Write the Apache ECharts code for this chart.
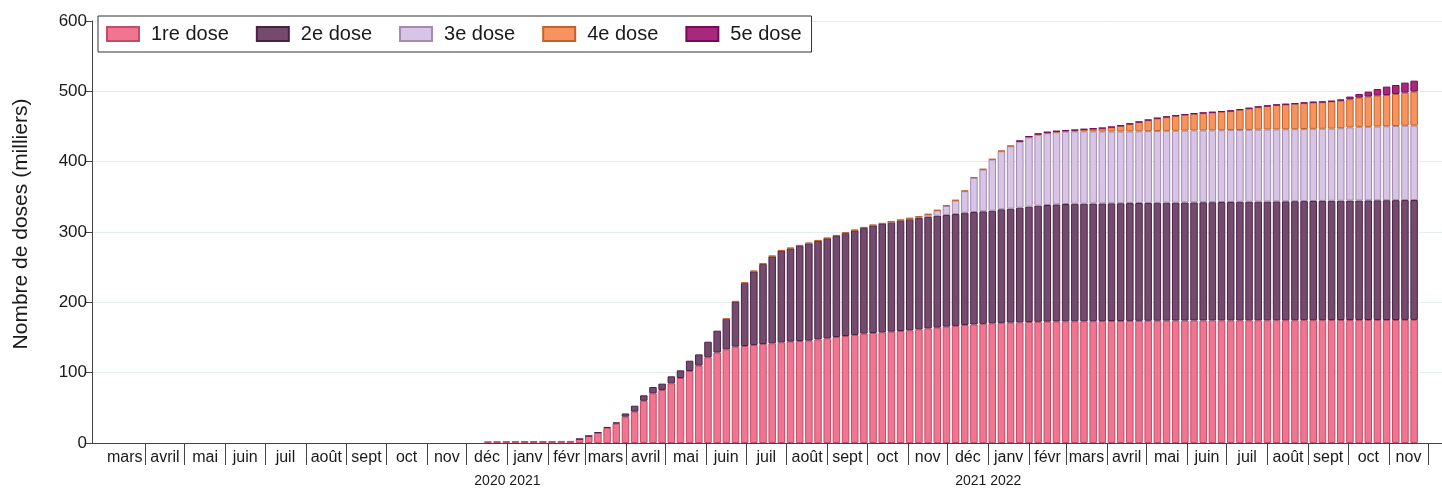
<!DOCTYPE html>
<html><head><meta charset="utf-8">
<script src="https://cdn.jsdelivr.net/npm/echarts@6/dist/echarts.min.js"></script>
<style>html,body{margin:0;padding:0;background:#fff}#c{width:1442px;height:489px}</style>
</head><body><div id="c"></div>
<script>
// Weekly observation dates (bars)
const weeks = [
'2020-12-16','2020-12-23','2020-12-30','2021-01-06','2021-01-13','2021-01-20','2021-01-27','2021-02-03','2021-02-10','2021-02-17',
'2021-02-24','2021-03-03','2021-03-10','2021-03-17','2021-03-24','2021-03-31','2021-04-07','2021-04-14','2021-04-21','2021-04-28',
'2021-05-05','2021-05-12','2021-05-19','2021-05-26','2021-06-02','2021-06-09','2021-06-16','2021-06-23','2021-06-30','2021-07-07',
'2021-07-14','2021-07-21','2021-07-28','2021-08-04','2021-08-11','2021-08-18','2021-08-25','2021-09-01','2021-09-08','2021-09-15',
'2021-09-22','2021-09-29','2021-10-06','2021-10-13','2021-10-20','2021-10-27','2021-11-03','2021-11-10','2021-11-17','2021-11-24',
'2021-12-01','2021-12-08','2021-12-15','2021-12-22','2021-12-29','2022-01-05','2022-01-12','2022-01-19','2022-01-26','2022-02-02',
'2022-02-09','2022-02-16','2022-02-23','2022-03-02','2022-03-09','2022-03-16','2022-03-23','2022-03-30','2022-04-06','2022-04-13',
'2022-04-20','2022-04-27','2022-05-04','2022-05-11','2022-05-18','2022-05-25','2022-06-01','2022-06-08','2022-06-15','2022-06-22',
'2022-06-29','2022-07-06','2022-07-13','2022-07-20','2022-07-27','2022-08-03','2022-08-10','2022-08-17','2022-08-24','2022-08-31',
'2022-09-07','2022-09-14','2022-09-21','2022-09-28','2022-10-05','2022-10-12','2022-10-19','2022-10-26','2022-11-02','2022-11-09',
'2022-11-16','2022-11-23'];

// Values in thousands of doses (segment heights)
const dose1 = [
2.5,2.6,2.7,2.7,2.8,2.8,2.9,2.9,3.0,3.0,
5.5,9.8,14.5,21.5,27.5,37.4,44.5,60,70.6,75.4,
84.9,92.4,102.4,110,122,128.6,133.2,137,137.9,139.3,
140.8,141.7,143.1,144.1,145,145.5,147.4,148.8,150.7,152.1,
153.6,155.5,156.4,157.4,158.3,159.2,160.2,161.6,163,164,
165.4,166.5,167.8,168.5,169.4,170.2,170.8,171.2,171.6,172,
172.3,172.5,172.7,172.9,173,173.1,173.2,173.3,173.4,173.5,
173.6,173.7,173.8,173.9,174,174.1,174.1,174.2,174.2,174.3,
174.3,174.4,174.4,174.5,174.5,174.5,174.6,174.6,174.6,174.7,
174.7,174.7,174.8,174.8,174.8,174.8,174.9,174.9,174.9,174.9,
175,175];
const dose2 = [
0,0,0,0,0,0,0,0,0,0,
0.3,0.4,0.7,1.2,1.9,4.6,8.5,7.8,9,9,
9.9,10.9,14.6,16,22,31.1,43.1,63.9,89.5,104.7,
113.7,123.7,130.3,132.6,135.5,138.3,140.2,142.2,144,146.4,
148.7,150.6,153,154.4,155.7,157,158.1,158.4,158.5,159,
158.9,159.1,159.7,159.9,160,160.1,161.5,162,163,164,
165.1,165.9,166.5,166.9,167.1,167.2,167.3,167.3,167.4,167.4,
167.5,167.5,167.6,167.6,167.7,167.7,167.9,167.9,168.1,168.1,
168.3,168.3,168.5,168.5,168.7,168.8,168.9,169,169.2,169.2,
169.4,169.5,169.6,169.7,169.9,170,170.1,170.2,170.3,170.4,
170.4,170.5];
const dose3 = [
0,0,0,0,0,0,0,0,0,0,
0,0,0,0,0,0,0,0,0,0,
0,0,0,0,0,0,0,0,0,0,
0,0,0,0,0,0,0,0,0,0,
0,0,0,0,0.3,0.5,0.8,1.5,3.3,7.5,
12.8,19.1,30.5,48.6,59.4,72.7,82.5,88.7,93.7,98.6,
100.8,102.1,102.7,102.9,103,102.9,102.6,102.3,102.1,101.9,
101.9,102,102,102,102.1,102.1,102.1,102.2,102.2,102.2,
102.1,102.2,102.1,102.2,102.3,102.4,102.4,102.5,102.4,102.5,
102.6,102.6,102.6,103.1,104,104.7,104.5,104.8,105.1,105.4,
105.7,105.7];
const dose4 = [
0,0,0,0,0,0,0,0,0,0,
0,0,0,0,0,0,0,0,0,0,
0,0,0,0,0,0,0.5,0.8,0.8,0.8,
0.8,0.8,0.8,0.8,0.8,0.8,0.8,0.8,0.8,0.8,
0.8,0.8,0.8,0.8,0.8,0.8,0.8,0.8,0.8,0.8,
0.8,0.8,0.8,0.8,0.8,0.8,0.8,0.8,0.8,0.8,
0.9,1,1,1.2,1.5,2.5,3.5,4.5,6,8,
10.5,13,15.5,18,19.6,21.2,22.5,23.7,24.5,25.3,
26.2,27,28.7,30.4,32,33.3,34.5,35.2,36,36.8,
37.5,37.8,38.6,39,40,41.5,43,44,44.5,45.5,
47,48.4];
const dose5 = [
0,0,0,0,0,0,0,0,0,0,
0,0,0,0,0,0,0,0,0,0,
0,0,0,0,0,0,0,0,0,0,
0,0,0,0,0,0,0,0,0,0,
0,0,0,0,0,0,0,0,0,0,
0,0,0,0,0,0,0,0,0.7,0.7,
0.7,0.7,0.7,0.7,0.7,0.7,0.7,0.7,0.7,0.7,
0.7,0.7,0.7,0.7,0.7,0.7,0.7,0.7,0.7,0.7,
0.7,0.7,0.7,0.7,0.7,0.7,0.7,0.7,0.7,0.7,
0.7,0.7,0.7,2,3.8,5.2,7.1,9.4,11.9,12.8,
14.3,15.6];

const seriesNames = ['1re dose','2e dose','3e dose','4e dose','5e dose'];
const monthLabels = ['mars','avril','mai','juin','juil','août','sept','oct','nov','déc','janv','févr',
  'mars','avril','mai','juin','juil','août','sept','oct','nov','déc','janv','févr',
  'mars','avril','mai','juin','juil','août','sept','oct','nov'];
const yearLabels = ['2020 2021','2021 2022'];
const yearBreaks = ['2021-01-01','2022-01-01'];
const yAxisName = 'Nombre de doses (milliers)';

// ---- layout / styling ----
const fills   = ['#f17590','#744a6e','#d8c4e6','#f7935c','#a8287e'];
const borders = ['#c24c68','#4a2344','#a48cae','#c2622e','#760c58'];
const FONT = '"Liberation Sans", Arial, sans-serif';

const xMin = Date.UTC(2020,1,20,16);
const xMax = Date.UTC(2022,11,11,10);
const monthStarts = [];
for (let k = 0; k <= monthLabels.length; k++) monthStarts.push(Date.UTC(2020, 2 + k, 1));
const tickVals = monthStarts.slice(1);
const midVals = monthLabels.map((_, k) => (monthStarts[k] + monthStarts[k+1]) / 2);
const yearVals = yearBreaks.map(d => Date.parse(d));
const weekVals = weeks.map(d => Date.parse(d));

function lookup(vals, labels) {
  return (v) => {
    const k = vals.findIndex(m => Math.abs(m - v) < 86400000);
    return k >= 0 ? labels[k] : '';
  };
}

const allDoses = [dose1, dose2, dose3, dose4, dose5];
const series = allDoses.map((arr, s) => ({
  name: seriesNames[s],
  type: 'bar',
  stack: 'doses',
  xAxisIndex: 2,
  barWidth: 7.5,
  itemStyle: { color: fills[s], borderColor: borders[s], borderWidth: 1 },
  emphasis: { disabled: true },
  data: arr.map((v, i) => [weekVals[i], v === 0 ? '-' : v])
}));

const chart = echarts.init(document.getElementById('c'), null, { renderer: 'canvas' });
chart.setOption({
  animation: false,
  backgroundColor: '#ffffff',
  textStyle: { fontFamily: FONT },
  grid: { left: 92, right: 0, top: 21, bottom: 46, containLabel: false },
  legend: {
    left: 98, top: 16,
    padding: [8, 10, 8, 8],
    borderColor: '#333333', borderWidth: 1, backgroundColor: '#ffffff',
    itemWidth: 32, itemHeight: 14, itemGap: 27,
    icon: 'rect',
    selectedMode: false,
    textStyle: { fontFamily: FONT, fontSize: 20, color: '#1a1a1a', padding: [0, 0, 0, 7] },
    data: seriesNames
  },
  xAxis: [
    {
      type: 'value', min: xMin, max: xMax, position: 'bottom',
      axisLine: { show: true, onZero: false, lineStyle: { color: '#444444', width: 1 } },
      axisTick: { show: true, customValues: tickVals, length: 22, lineStyle: { color: '#444444', width: 1 } },
      axisLabel: {
        show: true, customValues: midVals, margin: 7,
        fontFamily: FONT, fontSize: 16, color: '#1a1a1a',
        formatter: lookup(midVals, monthLabels)
      },
      splitLine: { show: false }
    },
    {
      type: 'value', min: xMin, max: xMax, position: 'bottom',
      axisLine: { show: false }, axisTick: { show: false }, splitLine: { show: false },
      axisLabel: {
        show: true, customValues: yearVals, margin: 31,
        fontFamily: FONT, fontSize: 14, color: '#1a1a1a',
        formatter: lookup(yearVals, yearLabels)
      }
    },
    {
      type: 'time', min: xMin, max: xMax, position: 'bottom', show: false,
      axisLine: { show: false }, axisTick: { show: false }, axisLabel: { show: false }, splitLine: { show: false }
    }
  ],
  yAxis: {
    type: 'value', min: 0, max: 600, interval: 100,
    name: yAxisName, nameLocation: 'middle', nameGap: 60, nameRotate: 90,
    nameTextStyle: { fontFamily: FONT, fontSize: 21, color: '#1a1a1a', padding: [0, 0, 0, 16] },
    axisLine: { show: true, lineStyle: { color: '#444444', width: 1 } },
    axisTick: { show: true, length: 6, lineStyle: { color: '#444444' } },
    axisLabel: { fontFamily: FONT, fontSize: 17, color: '#1a1a1a', margin: 5 },
    splitLine: { show: true, lineStyle: { color: '#e4eeee', width: 1 } }
  },
  series: series
});
</script>
</body></html>
